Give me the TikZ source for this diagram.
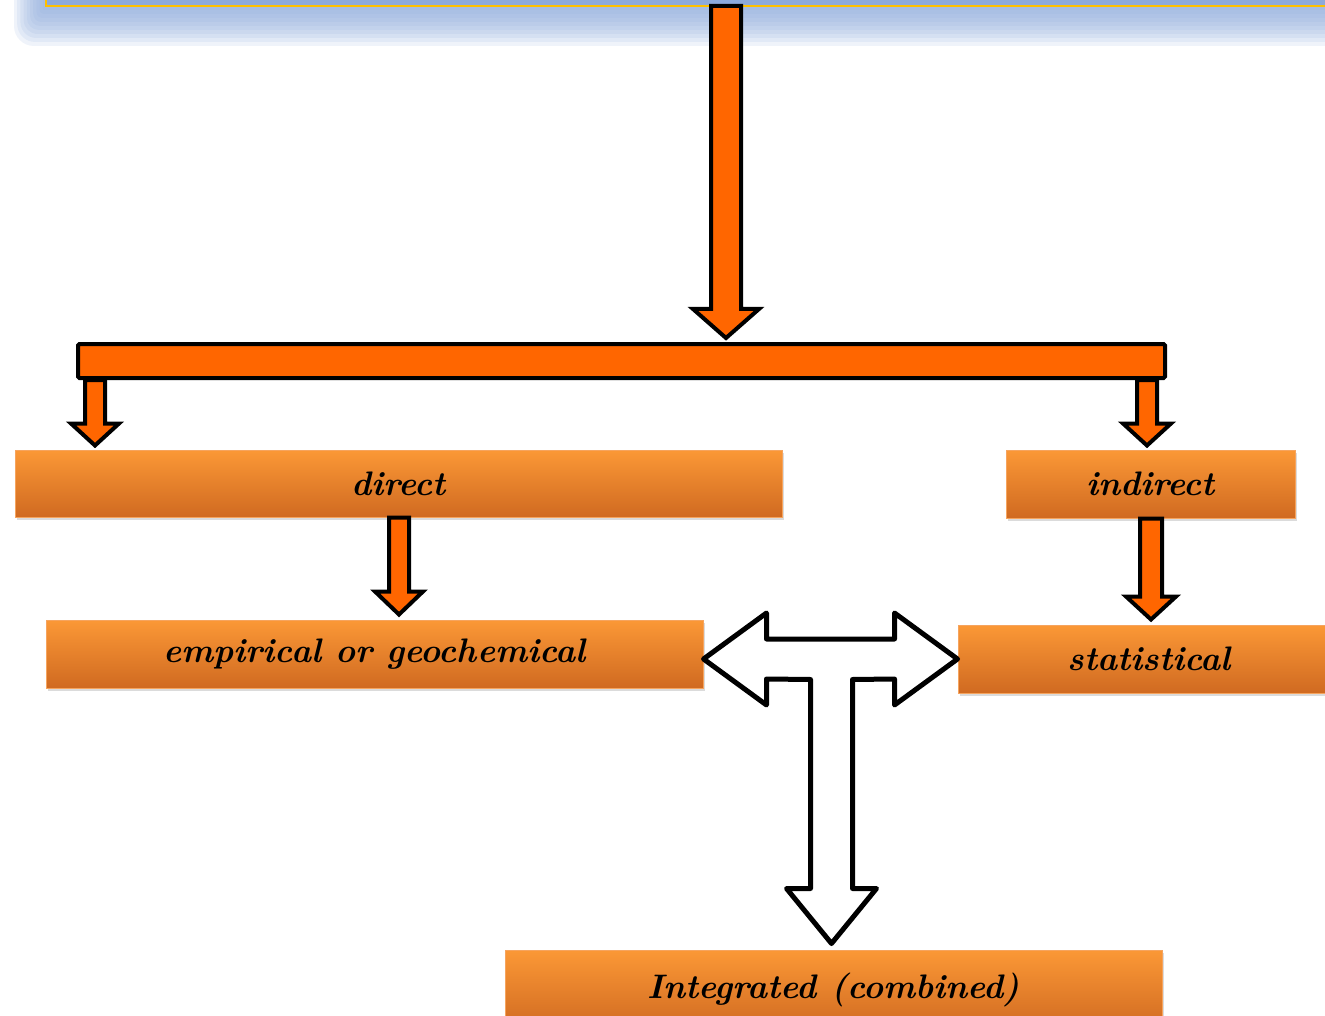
\documentclass[tikz,border=0pt]{standalone}
\usetikzlibrary{calc,shadows}
\definecolor{arrowor}{HTML}{FF6600}
\definecolor{boxtop}{HTML}{FB9836}
\definecolor{boxbot}{HTML}{D06A21}
\definecolor{boxline}{HTML}{F6A45E}
\definecolor{hdrblue}{HTML}{8DAADB}
\definecolor{hdrline}{HTML}{FFC000}
% #1 from, #2 to, #3 shaft half width, #4 head half width, #5 head length
\newcommand{\blockdown}[5]{%
  \draw[orarrow] let \p1=#1, \p2=#2 in
    (\x2-#3pt,\y1) -- (\x2+#3pt,\y1) -- (\x2+#3pt,\y2+#5pt)
    -- (\x2+#4pt,\y2+#5pt) -- (\x2,\y2) -- (\x2-#4pt,\y2+#5pt)
    -- (\x2-#3pt,\y2+#5pt) -- cycle;}

\begin{document}
\begin{tikzpicture}[x=1pt,y=-1pt,
    orarrow/.style={draw=black,fill=arrowor,line width=4pt},
    tarrow/.style={draw=black,fill=white,line width=5pt,line join=round},
    methodbox/.style={rectangle,draw=boxline,line width=1pt,
      top color=boxtop,bottom color=boxbot,inner sep=0pt,
      drop shadow={shadow xshift=2pt,shadow yshift=-3pt,fill=black!40,opacity=0.35},
      font=\fontsize{34}{40}\selectfont\bfseries\itshape}]
  \useasboundingbox (0,0) rectangle (1325,1016);

  %% header box (cut off at the top)
  \node[rectangle,minimum width=1400,minimum height=80,anchor=south west,inner sep=0pt]
    (top) at (46,6) {};
  \foreach \i in {1,...,10}
    \fill[hdrblue,opacity=0.14,rounded corners=2*\i]
      ($(top.south west)+(-3.2*\i,4*\i)$) rectangle (top.north east);
  \fill[hdrblue] (top.south west) rectangle (top.north east);
  \draw[hdrline,line width=1.5pt] (top.north west) -- (top.south west) -- (top.south east);

  %% distribution bar
  \node[rectangle,draw=black,fill=arrowor,line width=4pt,rounded corners=1.5pt,
    minimum width=1087,minimum height=34,inner sep=0pt] (bar) at (621.5,361) {};

  %% methods
  \node[methodbox,minimum width=767,minimum height=67] (direct) at (398.5,483.5) {direct};
  \node[methodbox,minimum width=289,minimum height=68] (indirect) at (1150.5,484) {indirect};
  \node[methodbox,minimum width=657,minimum height=68] (emp) at (374.5,654) {empirical or geochemical};
  \node[methodbox,minimum width=382,minimum height=68] (stat) at (1149,659) {statistical};
  \node[methodbox,minimum width=657,minimum height=80] (integ) at (833.5,990) {\raisebox{6pt}{Integrated (combined)}};

  %% arrows
  \blockdown{(726,0 |- top.south)}{($(726,0 |- bar.north)+(0,-4)$)}{15}{33}{29}
  \blockdown{(95,0 |- bar.south)}{($(95,0 |- direct.north)+(0,-4)$)}{10}{24}{22}
  \blockdown{(1147,0 |- bar.south)}{($(1147,0 |- indirect.north)+(0,-4)$)}{10}{24}{22}
  \blockdown{(399,0 |- direct.south)}{($(399,0 |- emp.north)+(0,-5)$)}{10}{24}{23}
  \blockdown{(1151,0 |- indirect.south)}{($(1151,0 |- stat.north)+(0,-5)$)}{11}{25}{23}

  %% combined: T-shaped arrow
  \coordinate (tl) at (emp.east |- stat.west);
  \coordinate (tr) at (stat.west);
  \coordinate (tb) at ($(integ.north)+(-2,-6)$);
  \draw[tarrow] (tl) -- ++(63,-46) -- ++(0,26) -- ($(tr)+(-63,-20)$) -- ++(0,-26)
    -- (tr) -- ++(-63,46) -- ++(0,-26) -- ($(tb)+(21,-264)$) -- ++(0,209)
    -- ++(24,0) -- (tb) -- ++(-45,-55) -- ++(24,0) -- ++(0,-209)
    -- ($(tl)+(63,20)$) -- ++(0,26) -- cycle;
\end{tikzpicture}
\end{document}
